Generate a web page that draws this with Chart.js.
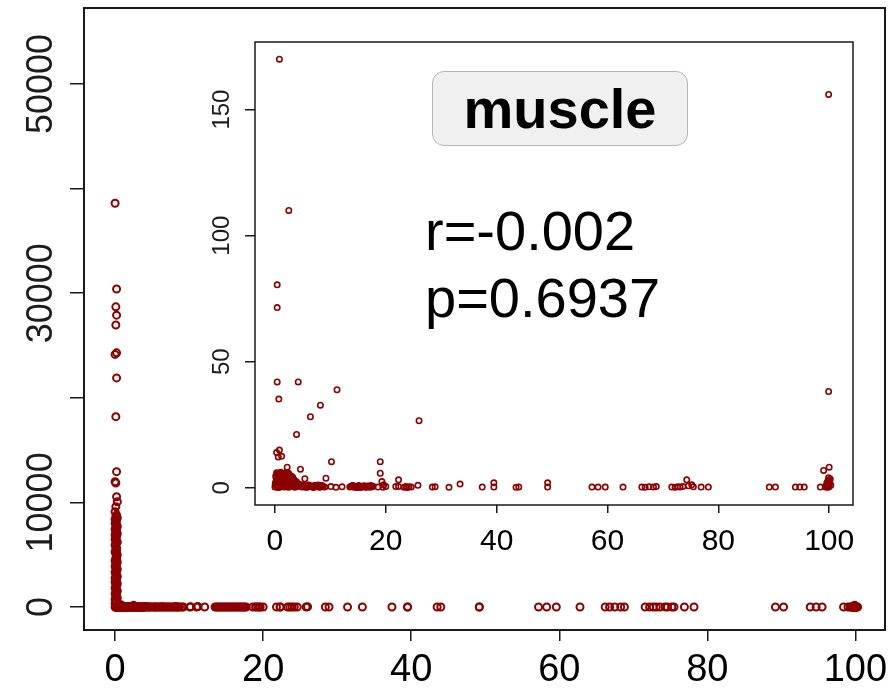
<!DOCTYPE html>
<html>
<head>
<meta charset="utf-8">
<script src="https://cdn.jsdelivr.net/npm/chart.js@4.4.1/dist/chart.umd.min.js"></script>
<style>
  html, body { margin: 0; padding: 0; background: #fff; }
  #wrap { position: relative; width: 896px; height: 688px; overflow: hidden; font-family: "Liberation Sans", Arial, sans-serif; }
  #main { position: absolute; left: 0; top: 0; }
  #inset { position: absolute; left: 190px; top: 30px; }
  .tissue {
    position: absolute; left: 432px; top: 71px; width: 256px; height: 75px;
    box-sizing: border-box; border: 1px solid #b5b5b5; border-radius: 12px;
    background: #f0f0f0; text-align: center; font-weight: bold; font-size: 56px;
    line-height: 73px; color: #000;
  }
  .stat { position: absolute; left: 425px; font-size: 56px; line-height: 56px; color: #000; white-space: nowrap; }
</style>
</head>
<body>
<div id="wrap">
  <canvas id="main" width="896" height="688"></canvas>
  <canvas id="inset" width="680" height="545"></canvas>
  <div class="tissue">muscle</div>
  <div class="stat" style="top:203px">r=-0.002</div>
  <div class="stat" style="top:270px">p=0.6937</div>
</div>
<script>
// x ~ 0 column with large values (only visible on the full-range plot)
const highX = [0, 0.2, 0.1, 0.2, 0.1, 0.2, 0, 0.2, 0.1, 0.2, 0, 0.1, 0.2, 0.3, 0.1, 0,
  0.2, 0.1, 0.3, 0, 0.2, 0.1, 0, 0.2, 0.3, 0.1, 0, 0.2, 0.1, 0.3, 0, 0.2, 0.1, 0,
  0.2, 0.3, 0.1, 0, 0.2, 0.1, 0.2, 0, 0.1, 0.3, 0.2, 0.1, 0.2, 0, 0.3, 0.1, 0.2, 0,
  0.1, 0.3, 0.2, 0, 0.1, 0.2, 0.3, 0, 0.2, 0.1, 0, 0.3, 0.2, 0.1, 0, 0.2, 0.3, 0.1,
  0, 0.2, 0.1, 0.3, 0, 0.2, 0.1, 0];
const highY = [38600, 30400, 28700, 27900, 26960, 24300, 24150, 21900, 18200, 12940,
  11980, 11850, 10540, 10060, 9590, 9110,
  8800, 8650, 8520, 8380, 8260, 8120, 7990, 7840, 7700, 7570, 7430, 7290, 7150, 7010,
  6880, 6740, 6600, 6460, 6320, 6190, 6050, 5900, 5640, 5520, 5390, 5260, 5120, 4980,
  4840, 4700, 4570, 4430, 4290, 4150, 4010, 3880, 3740, 3600, 3470, 3330, 3190, 3050,
  2920, 2780, 2640, 2500, 2370, 2230, 2090, 1950, 1820, 1680, 1540, 1400, 1270, 1130,
  990, 860, 720, 590, 460, 330, 210];

// low values, drawn on both plots
const lowX = [
  // outliers
  0.8, 99.9, 2.5, 0.4, 0.4, 0.4, 4.2, 0.7, 11.2, 8.2, 6.4, 3.9, 26, 99.9,
  0.3, 0.8, 1.2, 0.6, 10.2, 19, 19, 2.2, 4.6, 5.4, 9.2, 22.3, 19.3, 19.6, 20,
  99, 100, 74.3, 75.2, 33.4, 39.5, 49.2,
  // blob near zero
  0, 0.1, 0.2, 0.3, 0.4, 0.5, 0.6, 0.7, 0.8, 0.9, 1, 1.1, 1.2, 1.3, 1.5, 1.6,
  1.8, 1.9, 2, 2.1, 2.3, 2.4, 2.6, 2.7, 2.9, 3, 3.2, 3.4, 3.5, 3.7, 3.9, 4.1,
  0.2, 0.5, 0.9, 1.4, 1.7, 2.2, 2.5, 2.8, 3.1, 3.6,
  0.05, 0.15, 0.35, 0.45, 0.55, 0.65, 0.75, 0.85, 0.95, 1.05, 1.15, 1.25, 1.35, 1.45,
  1.55, 1.65, 1.75, 1.85, 2.05, 2.15, 2.35, 2.55, 2.75, 3.05, 3.25, 3.45, 3.75, 3.95,
  0.3, 0.7, 1, 1.6, 2, 2.4, 3,
  // row along zero
  4.4, 4.8, 5.2, 5.6, 6, 6.4, 6.8, 7.2, 7.6, 8, 8.4, 8.7, 9, 10.1, 11, 12.1,
  4.2, 4.6, 5, 5.4, 5.8, 6.2, 6.6, 7, 7.4, 7.8, 8.2, 8.5,
  13.5, 13.9, 14.3, 14.7, 15.1, 15.5, 15.9, 16.3, 16.7, 17.1, 17.5, 17.7,
  13.7, 14.1, 14.5, 14.9, 15.3, 15.7, 16.1, 16.5, 16.9, 17.3,
  18.6, 19.5, 21.8, 22.3, 23.3, 23.6, 23.9, 24.2, 24.6, 25.8, 28.4, 28.9, 31.4,
  37.4, 39.5, 43.5, 44, 49.2, 57.2, 58.3, 59.6, 62.8, 66.2, 66.8, 67.5, 68.3, 68.8,
  71.6, 72.2, 72.7, 73.1, 73.6, 74.6, 75.5, 76.9, 78.2, 89.2, 90.3, 93.9, 94.7, 95.5,
  98.4, 99.3, 99.6, 99.8, 100, 100.1, 99.9, 100.3, 99.7,
  99.5, 99.8, 100, 100.2, 99.6, 99.9
];
const lowY = [
  170, 156, 110, 80.5, 71.5, 42, 42, 35.2, 38.9, 32.8, 28.2, 21.2, 26.6, 38.2,
  14, 15, 12.5, 12.2, 10.4, 10.4, 5.8, 8.2, 7.4, 3.6, 3.8, 3.2, 2.5, 1.2, 0.5,
  6.9, 8.2, 3.2, 1.2, 1.5, 2, 2,
  0.3, 2.1, 4, 0.8, 3.2, 5.1, 1.5, 2.7, 4.4, 0.2, 3.6, 1.9, 5, 0.6, 2.8, 4.6,
  1.2, 5.9, 3.3, 0.4, 4.9, 2.2, 5.3, 0.9, 3.8, 1.7, 4.2, 0.5, 3, 1.4, 2.4, 0.7,
  1, 0.1, 1.8, 1.1, 0.3, 1.6, 0.2, 2.9, 0.9, 0.2,
  1.5, 4.8, 2.2, 5.5, 0.9, 3.7, 5.8, 1.3, 2.9, 6.2, 0.5, 3.9, 5.4, 1.8,
  3.4, 0.6, 5.1, 2.5, 4.3, 1.1, 3.6, 0.8, 4.5, 2.6, 1, 3.2, 2, 1.2,
  6, 5, 5.6, 5.7, 6.1, 5.9, 4.6,
  1.2, 0.4, 0.9, 0.2, 1.1, 0.5, 0.3, 1, 0.6, 0.2, 0.8, 0.4, 0.3, 0.5, 0.2, 0.4,
  0.6, 1.3, 0.3, 0.8, 0.2, 1, 0.7, 0.1, 0.5, 1.1, 0.3, 0.9,
  0.3, 0.8, 0.2, 0.5, 0.9, 0.1, 0.6, 0.3, 0.7, 0.2, 0.4, 0.6,
  0.5, 0.9, 0.3, 0.1, 0.6, 0.4, 0.8, 0.2, 0.5, 0.9,
  0.3, 0.2, 0.5, 0.5, 0.2, 0.5, 0.1, 0.4, 0.3, 1, 0.3, 0.4, 0.2,
  0.3, 0.3, 0.2, 0.3, 0.3, 0.3, 0.3, 0.3, 0.3, 0.3, 0.2, 0.4, 0.3, 0.5,
  0.3, 0.2, 0.4, 0.3, 0.5, 0.8, 0.4, 0.3, 0.3, 0.3, 0.3, 0.3, 0.3, 0.3,
  0.3, 0.3, 1.5, 3, 0.5, 2.2, 4, 1, 0.2,
  0.8, 2.5, 1.6, 3.5, 2, 0.3
];

const mainXTicks = [0, 20, 40, 60, 80, 100];
const mainYTicks = [0, 10000, 20000, 30000, 40000, 50000];
const mainYLabels = ['0', '10000', '', '30000', '', '50000'];
const insetXTicks = [0, 20, 40, 60, 80, 100];
const insetYTicks = [0, 50, 100, 150];
const insetYLabels = ['0', '50', '100', '150'];

const FONT = '"Liberation Sans", Arial, sans-serif';
const RED = '#8B0000';

function toPoints(xs, ys) {
  return xs.map((x, i) => ({ x: x, y: ys[i] }));
}

// y labels in R style: turned 90 degrees, centred on the tick
const rotatedYLabels = {
  id: 'rotatedYLabels',
  afterDraw(chart, args, opts) {
    const scale = chart.scales.y;
    const ctx = chart.ctx;
    ctx.save();
    ctx.font = opts.font;
    ctx.fillStyle = opts.color;
    ctx.textAlign = 'center';
    ctx.textBaseline = 'middle';
    scale.ticks.forEach((t, i) => {
      const label = opts.labels[i];
      if (!label) return;
      ctx.save();
      ctx.translate(opts.x, scale.getPixelForValue(t.value));
      ctx.rotate(-Math.PI / 2);
      ctx.fillText(label, 0, 0);
      ctx.restore();
    });
    ctx.restore();
  }
};

// white plot area and the box round it
const boxFrame = {
  id: 'boxFrame',
  beforeDraw(chart) {
    const a = chart.chartArea;
    chart.ctx.save();
    chart.ctx.fillStyle = '#fff';
    chart.ctx.fillRect(a.left, a.top, a.right - a.left, a.bottom - a.top);
    chart.ctx.restore();
  },
  afterDraw(chart, args, opts) {
    const a = chart.chartArea;
    const ctx = chart.ctx;
    ctx.save();
    ctx.strokeStyle = '#1a1a1a';
    ctx.lineWidth = opts.width;
    ctx.strokeRect(a.left, a.top, a.right - a.left, a.bottom - a.top);
    ctx.restore();
  }
};

function axis(opts) {
  return {
    type: 'linear',
    min: opts.min,
    max: opts.max,
    afterBuildTicks: (scale) => { scale.ticks = opts.ticks.map((v) => ({ value: v })); },
    afterFit: (scale) => {
      if (opts.width) scale.width = opts.width;
      if (opts.height) scale.height = opts.height;
    },
    border: { display: false },
    grid: { drawOnChartArea: false, drawTicks: true, tickLength: opts.tickLength, color: '#1a1a1a', lineWidth: 1.5 },
    ticks: opts.labelSize
      ? { display: true, color: '#000', padding: opts.padding, font: { family: FONT, size: opts.labelSize }, maxRotation: 0 }
      : { display: false }
  };
}

new Chart(document.getElementById('main'), {
  type: 'scatter',
  data: {
    datasets: [{
      data: toPoints(highX.concat(lowX), highY.concat(lowY)),
      borderColor: RED,
      backgroundColor: 'rgba(0,0,0,0)',
      borderWidth: 2,
      pointRadius: 3.5
    }]
  },
  options: {
    responsive: false,
    animation: false,
    layout: { padding: { top: 8, right: 11, left: 0, bottom: 0 } },
    scales: {
      x: axis({ min: -4.2, max: 104, ticks: mainXTicks, height: 58, tickLength: 11, labelSize: 38, padding: 7 }),
      y: axis({ min: -2200, max: 57270, ticks: mainYTicks, width: 84, tickLength: 14 })
    },
    plugins: {
      legend: { display: false },
      tooltip: { enabled: false },
      rotatedYLabels: { labels: mainYLabels, x: 42, font: '36px ' + FONT, color: '#1c1c1c' },
      boxFrame: { width: 2 }
    }
  },
  plugins: [rotatedYLabels, boxFrame]
});

new Chart(document.getElementById('inset'), {
  type: 'scatter',
  data: {
    datasets: [{
      data: toPoints(lowX, lowY),
      borderColor: RED,
      backgroundColor: 'rgba(0,0,0,0)',
      borderWidth: 1.6,
      pointRadius: 2.7
    }]
  },
  options: {
    responsive: false,
    animation: false,
    layout: { padding: { top: 12, right: 17, left: 0, bottom: 0 } },
    scales: {
      x: axis({ min: -3.6, max: 104.3, ticks: insetXTicks, height: 70, tickLength: 8, labelSize: 30, padding: 11 }),
      y: axis({ min: -6.8, max: 176.8, ticks: insetYTicks, width: 65, tickLength: 10 })
    },
    plugins: {
      legend: { display: false },
      tooltip: { enabled: false },
      rotatedYLabels: { labels: insetYLabels, x: 32, font: '24px ' + FONT, color: '#1c1c1c' },
      boxFrame: { width: 1.5 }
    }
  },
  plugins: [rotatedYLabels, boxFrame]
});
</script>
</body>
</html>
